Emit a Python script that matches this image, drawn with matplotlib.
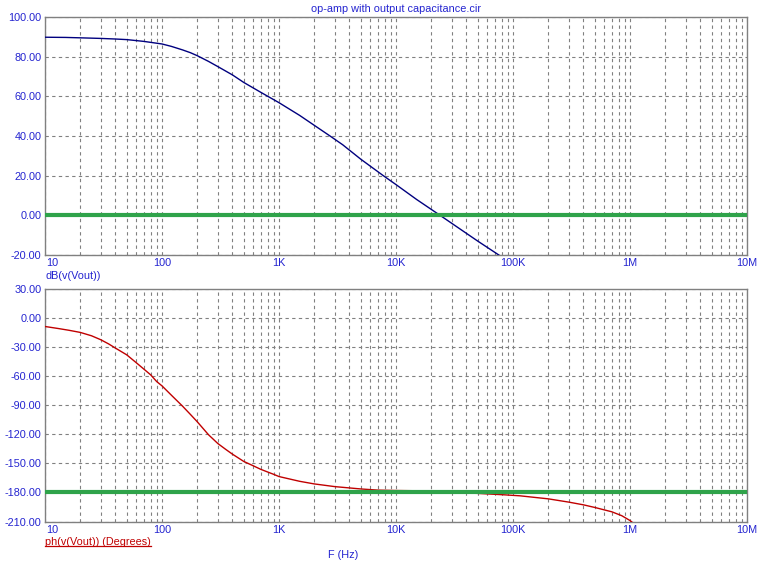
import numpy as np
import matplotlib
matplotlib.use("Agg")
import matplotlib.pyplot as plt
from matplotlib.ticker import FixedLocator, NullFormatter
from matplotlib.lines import Line2D

plt.rcParams['font.family'] = ['Liberation Sans', 'DejaVu Sans']

# ---- data ----
gain_freq = [10, 15, 20, 30, 40, 50, 70, 100, 120, 150, 175, 200, 250, 300,
             400, 500, 700, 1000, 1500, 2000, 2730, 3500, 5000, 7790, 10000,
             15000, 23800, 50000, 77000, 90000]
gain_db = [89.8, 89.7, 89.5, 89.2, 88.9, 88.6, 87.7, 86.4, 85.2, 83.4, 82.0,
           80.5, 77.6, 75.0, 70.8, 67.0, 62.0, 56.8, 50.4, 45.4, 40.0, 35.6,
           28.3, 20.0, 15.5, 8.0, 0.0, -13.0, -20.3, -23.0]

phase_freq = [10, 13, 16, 20, 25, 30, 35, 40, 50, 60, 70, 80, 90, 100, 120,
              150, 175, 200, 250, 300, 350, 400, 500, 600, 700, 900, 1000,
              1500, 2000, 3000, 5000, 7000, 10000, 16000, 30000, 50000, 85500,
              115000, 150000, 200000, 300000, 400000, 500000, 700000, 850000,
              1000000, 1100000]
phase_deg = [-8.7, -10.8, -12.6, -14.8, -18.3, -22.4, -26.7, -31.0, -38.0,
             -45.9, -52.7, -58.6, -65.5, -70.0, -79.5, -91.0, -99.5, -107.0,
             -120.5, -129.5, -135.5, -140.5, -148.0, -152.4, -156.2, -161.3,
             -163.6, -168.5, -171.2, -174.0, -176.4, -177.6, -178.0, -178.3,
             -179.5, -181.0, -182.5, -183.5, -185.0, -186.6, -190.0, -192.8,
             -195.5, -200.0, -204.0, -209.0, -213.0]

ref_gain = 0.0
ref_phase = -180.0

x_ticks = [10, 100, 1e3, 1e4, 1e5, 1e6, 1e7]
x_tick_labels = ["10", "100", "1K", "10K", "100K", "1M", "10M"]
gain_ticks = [-20, 0, 20, 40, 60, 80, 100]
phase_ticks = [-210, -180, -150, -120, -90, -60, -30, 0, 30]

title = "op-amp with output capacitance.cir"
gain_label = "dB(v(Vout))"
phase_label = "ph(v(Vout)) (Degrees)"
x_label = "F (Hz)"

# ---- styling ----
W, H = 774, 572
fig = plt.figure(figsize=(W / 100, H / 100), dpi=100)
fig.patch.set_facecolor("white")

txt_blue = "#2424d0"
gain_col = "#00007f"
phase_col = "#c00000"
green = "#2fa34a"
grid_col = "#808080"
fs = 7.8

def px(x0, y0, x1, y1):
    return [x0 / W, 1 - y1 / H, (x1 - x0) / W, (y1 - y0) / H]

ax1 = fig.add_axes(px(45, 17, 747, 255))
ax2 = fig.add_axes(px(45, 289, 747, 521.5))

minor = [m * 10 ** e for e in range(1, 7) for m in range(2, 10)]

for ax, ticks in ((ax1, gain_ticks), (ax2, phase_ticks)):
    ax.set_xscale("log")
    ax.set_xlim(10, 1e7)
    ax.set_ylim(ticks[0], ticks[-1])
    ax.xaxis.set_major_locator(FixedLocator(x_ticks))
    ax.xaxis.set_minor_locator(FixedLocator(minor))
    ax.xaxis.set_minor_formatter(NullFormatter())
    ax.set_xticklabels([])
    ax.set_yticks(ticks)
    ax.set_yticklabels([f"{t:.2f}" for t in ticks], color=txt_blue, fontsize=fs)
    ax.tick_params(axis="both", which="both", length=0)
    ax.tick_params(axis="y", pad=2.5)
    ax.grid(True, which="both", axis="x", color=grid_col, linestyle=(0, (3, 3)), linewidth=0.8)
    ax.grid(True, which="major", axis="y", color=grid_col, linestyle=(0, (3, 3)), linewidth=0.8)
    for s in ax.spines.values():
        s.set_color(grid_col)
        s.set_linewidth(1.0)
    for i, (xt, lab) in enumerate(zip(x_ticks, x_tick_labels)):
        ax.annotate(lab, xy=(xt, 0), xycoords=("data", "axes fraction"),
                    xytext=(1 if i == 0 else 0, -2.5), textcoords="offset points",
                    ha="left" if i == 0 else "center", va="top",
                    color=txt_blue, fontsize=fs, annotation_clip=False)

ax1.plot(gain_freq, gain_db, color=gain_col, linewidth=1.0, zorder=3)
ax1.axhline(ref_gain, color=green, linewidth=3.0, zorder=4)

ax2.plot(phase_freq, phase_deg, color=phase_col, linewidth=1.0, zorder=3)
ax2.axhline(ref_phase, color=green, linewidth=3.0, zorder=4)

fig.text(396 / W, 1 - 8.5 / H, title, ha="center", va="center", color=txt_blue, fontsize=fs)
fig.text(45 / W, 1 - 276 / H, gain_label, ha="left", va="center", color=txt_blue, fontsize=fs)
t = fig.text(45 / W, 1 - 542 / H, phase_label, ha="left", va="center", color=phase_col, fontsize=fs)
fig.text(343.5 / W, 1 - 555 / H, x_label, ha="center", va="center", color=txt_blue, fontsize=fs)

# underline the phase label
fig.canvas.draw()
bb = t.get_window_extent(renderer=fig.canvas.get_renderer())
inv = fig.transFigure.inverted()
(x0, y0), (x1, y1) = inv.transform([[bb.x0, bb.y0], [bb.x1, bb.y1]])
fig.add_artist(Line2D([x0, x1], [y0 + 1.0 / H, y0 + 1.0 / H], transform=fig.transFigure,
                      color=phase_col, linewidth=0.9))

fig.savefig("out.png", dpi=100, facecolor="white")
